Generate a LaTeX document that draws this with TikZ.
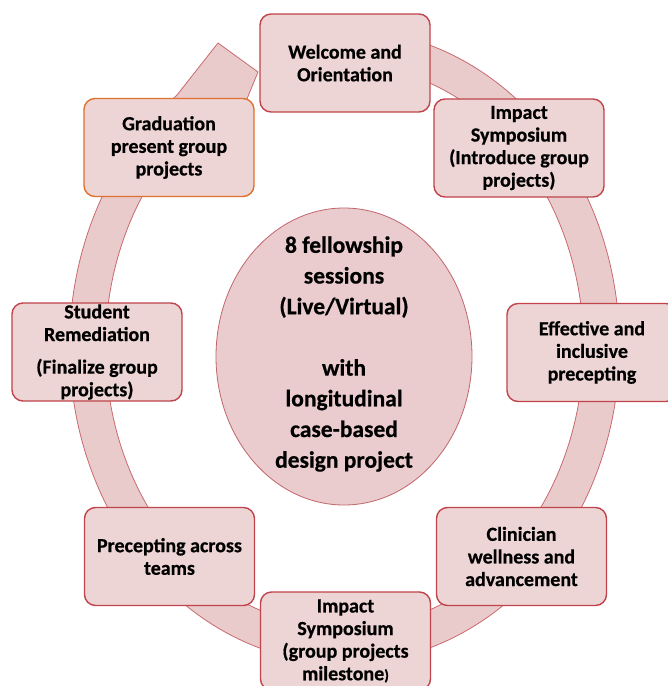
\documentclass[tikz,border=0pt]{standalone}
\usepackage{fontspec}
\setmainfont[BoldFeatures={FakeBold=0.6}]{Carlito}
\usetikzlibrary{shapes.geometric}
\definecolor{boxfill}{HTML}{EDD4D5}
\definecolor{boxline}{HTML}{C0444A}
\definecolor{gradline}{HTML}{E0702E}
\definecolor{ringfill}{HTML}{E9CBCC}
\definecolor{ringline}{HTML}{C96A6E}
\definecolor{corefill}{HTML}{EACCCE}
\definecolor{coreline}{HTML}{C0666C}
\begin{document}
\begin{tikzpicture}[x=1pt,y=-1pt,
  stagebox/.style={draw=boxline, line width=1.4pt, fill=boxfill, rounded corners=11pt,
    minimum width=170pt, minimum height=98pt, inner sep=0pt, align=center,
    text=black, font=\bfseries\fontsize{20}{22.6}\selectfont},
  coreshape/.style={ellipse, draw=coreline, line width=0.8pt, fill=corefill,
    minimum width=256pt, minimum height=297pt, inner sep=0pt},
  coretext/.style={align=center, text=black, inner sep=0pt,
    font=\bfseries\fontsize{23.5}{30.7}\selectfont}]
\fill[white] (0,0) rectangle (668,686);
\path[use as bounding box] (0,0) rectangle (668,686);
% circular arrow ring
\filldraw[fill=ringfill, draw=ringline, line width=0.8pt]
  plot[domain=95:-232.4, samples=240] ({344.5+275*cos(\x)},{346.5-317*sin(\x)})
  -- (218,43) -- (258,72) -- (226,150)
  -- plot[domain=-232.4:95, samples=240] ({344.5+239*cos(\x)},{346.5-282*sin(\x)})
  -- cycle;
% centre
\node[coreshape] (core) at (344,356.5) {};
\node[coretext] (coretxt) at (344,354) {8 fellowship\\sessions\\(Live/Virtual)\\[30.7pt]with\\longitudinal\\case-based\\design project};
% stages
\node[stagebox] (welcome) at (345,63) {Welcome and\\Orientation};
\node[stagebox] (impact1) at (519,148) {Impact\\Symposium\\(Introduce group\\projects)};
\node[stagebox] (effective) at (592,352.5) {Effective and\\inclusive\\precepting};
\node[stagebox] (clinician) at (521.5,556.5) {Clinician\\wellness and\\advancement};
\node[stagebox] (impact2) at (345.5,641) {Impact\\Symposium\\(group projects\\milestone{\fontsize{15}{15}\selectfont)}};
\node[stagebox] (precept) at (169.5,556.5) {Precepting across\\teams};
\node[stagebox] (remed) at (97,352) {Student\\Remediation\\[10pt](Finalize group\\projects)};
\node[stagebox, draw=gradline] (grad) at (169,147.5) {Graduation\\present group\\projects};
\end{tikzpicture}
\end{document}
